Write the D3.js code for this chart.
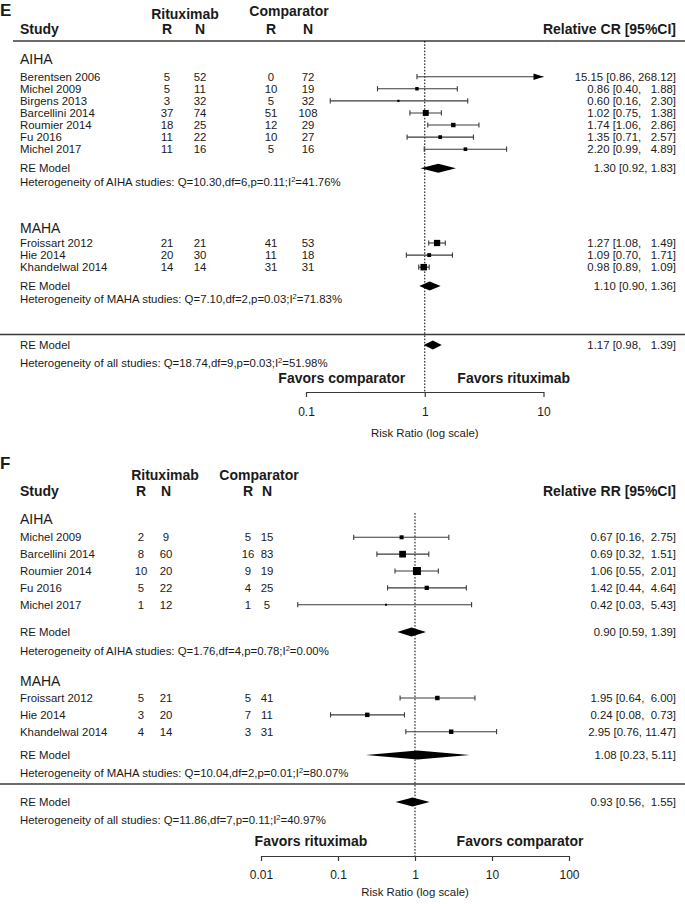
<!DOCTYPE html>
<html><head><meta charset="utf-8">
<script src="https://cdn.jsdelivr.net/npm/d3@7/dist/d3.min.js"></script>
<style>
body{margin:0;background:#fff;}
svg text{font-family:"Liberation Sans", Arial, sans-serif; fill:#1a1a1a; white-space:pre;}
</style></head><body>
<svg id="chart" width="685" height="904"></svg>
<script>
// ================= DATA =================
// Panel E : complete response
const crAihaNames  = ["Berentsen 2006","Michel 2009","Birgens 2013","Barcellini 2014","Roumier 2014","Fu 2016","Michel 2017"];
const crAihaRituxR = [5,5,3,37,18,11,11];
const crAihaRituxN = [52,11,32,74,25,22,16];
const crAihaCompR  = [0,10,5,51,12,10,5];
const crAihaCompN  = [72,19,32,108,29,27,16];
const crAihaRR     = [15.15,0.86,0.60,1.02,1.74,1.35,2.20];
const crAihaLo     = [0.86,0.40,0.16,0.75,1.06,0.71,0.99];
const crAihaHi     = [268.12,1.88,2.30,1.38,2.86,2.57,4.89];
const crAihaWeight = [1.0,6.0,2.5,18.0,10.0,7.0,6.5];

const crMahaNames  = ["Froissart 2012","Hie 2014","Khandelwal 2014"];
const crMahaRituxR = [21,20,14];
const crMahaRituxN = [21,30,14];
const crMahaCompR  = [41,11,31];
const crMahaCompN  = [53,18,31];
const crMahaRR     = [1.27,1.09,0.98];
const crMahaLo     = [1.08,0.70,0.89];
const crMahaHi     = [1.49,1.71,1.09];
const crMahaWeight = [20.0,7.5,21.5];

// summaries: [estimate, lower, upper, Q, df, p, I2]
const crAihaSummary = [1.30,0.92,1.83,10.30,6,0.11,41.76];
const crMahaSummary = [1.10,0.90,1.36,7.10,2,0.03,71.83];
const crAllSummary  = [1.17,0.98,1.39,18.74,9,0.03,51.98];
const crTickValues  = [0.1,1,10];
const crTickLabels  = ["0.1","1","10"];

// Panel F : relapse
const rrAihaNames  = ["Michel 2009","Barcellini 2014","Roumier 2014","Fu 2016","Michel 2017"];
const rrAihaRituxR = [2,8,10,5,1];
const rrAihaRituxN = [9,60,20,22,12];
const rrAihaCompR  = [5,16,9,4,1];
const rrAihaCompN  = [15,83,19,25,5];
const rrAihaRR     = [0.67,0.69,1.06,1.42,0.42];
const rrAihaLo     = [0.16,0.32,0.55,0.44,0.03];
const rrAihaHi     = [2.75,1.51,2.01,4.64,5.43];
const rrAihaWeight = [7.7,21.7,31.0,8.9,1.9];

const rrMahaNames  = ["Froissart 2012","Hie 2014","Khandelwal 2014"];
const rrMahaRituxR = [5,3,4];
const rrMahaRituxN = [21,20,14];
const rrMahaCompR  = [5,7,3];
const rrMahaCompN  = [41,11,31];
const rrMahaRR     = [1.95,0.24,2.95];
const rrMahaLo     = [0.64,0.08,0.76];
const rrMahaHi     = [6.00,0.73,11.47];
const rrMahaWeight = [9.6,9.6,9.6];

const rrAihaSummary = [0.90,0.59,1.39,1.76,4,0.78,0.00];
const rrMahaSummary = [1.08,0.23,5.11,10.04,2,0.01,80.07];
const rrAllSummary  = [0.93,0.56,1.55,11.86,7,0.11,40.97];
const rrTickValues  = [0.01,0.1,1,10,100];
const rrTickLabels  = ["0.01","0.1","1","10","100"];

// ================= HELPERS =================
const svg = d3.select("#chart");
const fmt2 = d3.format(".2f");
const INK = "#1a1a1a", LINE = "#3a3a3a";

function zipStudies(names, rR, rN, cR, cN, est, lo, hi, w) {
  return names.map((n, i) => ({name:n, rR:rR[i], rN:rN[i], cR:cR[i], cN:cN[i], est:est[i], lo:lo[i], hi:hi[i], w:w[i]}));
}
function txt(g, x, y, s, o = {}) {
  return g.append("text").attr("x", x).attr("y", y).attr("dy", "0.35em")
    .attr("font-size", o.size || 11.4).attr("font-weight", o.weight || "normal")
    .attr("text-anchor", o.anchor || "start").text(s);
}
function hetText(g, x, y, label, s) {
  const t = txt(g, x, y, `Heterogeneity of ${label} studies: Q=${fmt2(s[3])},df=${s[4]},p=${fmt2(s[5])};I`);
  t.append("tspan").attr("dy", -4).attr("font-size", 7.5).text("2");
  t.append("tspan").attr("dy", 4).text(`=${fmt2(s[6])}%`);
}

function drawPanel(cfg) {
  const g = svg.append("g");
  const x = d3.scaleLog().domain(cfg.domain).range(cfg.range);
  const [dMin, dMax] = cfg.domain;
  const allStudies = cfg.groups.flatMap(gr => gr.studies);
  const widths = [
    d3.max(allStudies.concat([{est:cfg.overall[0]}]), d => fmt2(d.est).length),
    d3.max(allStudies.concat([{lo:cfg.overall[1]}]), d => fmt2(d.lo).length),
    d3.max(allStudies.concat([{hi:cfg.overall[2]}]), d => fmt2(d.hi).length)
  ];
  const ci = (e, l, h, w) => w
    ? `${fmt2(e).padStart(w[0])} [${fmt2(l).padStart(w[1])}, ${fmt2(h).padStart(w[2])}]`
    : `${fmt2(e)} [${fmt2(l)}, ${fmt2(h)}]`;
  const size = d3.scaleSqrt().domain([0, d3.max(allStudies, d => d.w)]).range([0, cfg.maxSquare]);
  const L = cfg.layout;
  const xText = 20, xRight = 676;

  // headers
  txt(g, 0, L.letter, cfg.letter, {size:17, weight:"bold"});
  txt(g, cfg.ritCenter, L.rit, "Rituximab", {size:14, weight:"bold", anchor:"middle"});
  txt(g, cfg.compCenter, L.comp, "Comparator", {size:14, weight:"bold", anchor:"middle"});
  txt(g, xText, L.header, "Study", {size:14, weight:"bold"});
  ["R","N","R","N"].forEach((h, i) => txt(g, cfg.cols[i], L.header, h, {size:14, weight:"bold", anchor:"middle"}));
  txt(g, xRight, L.header, cfg.outcome, {size:14, weight:"bold", anchor:"end"});
  if (L.headerLine != null)
    g.append("line").attr("x1", 13).attr("x2", 685).attr("y1", L.headerLine).attr("y2", L.headerLine)
      .attr("stroke", LINE).attr("stroke-width", 1.6);

  // reference line at 1
  g.append("line").attr("x1", x(1)).attr("x2", x(1)).attr("y1", L.refTop).attr("y2", L.axis)
    .attr("stroke", "#000").attr("stroke-width", 1).attr("stroke-dasharray", "1.6,1.6");

  function diamond(s, y, h) {
    g.append("polygon").attr("fill", "#000")
      .attr("points", [[x(s[1]), y], [x(s[0]), y - h], [x(s[2]), y], [x(s[0]), y + h]].map(p => p.join(",")).join(" "));
  }

  cfg.groups.forEach((gr, gi) => {
    const GL = L.groups[gi];
    txt(g, xText, GL.label, gr.label, {size:14});
    gr.studies.forEach((d, i) => {
      const y = GL.first + i * L.rowStep;
      txt(g, xText, y, d.name);
      [d.rR, d.rN, d.cR, d.cN].forEach((v, k) => txt(g, cfg.cols[k], y, String(v), {anchor:"middle"}));
      txt(g, xRight, y, ci(d.est, d.lo, d.hi, widths), {anchor:"end"});
      const lo = Math.max(d.lo, dMin), hi = Math.min(d.hi, dMax);
      g.append("line").attr("x1", x(lo)).attr("x2", x(hi)).attr("y1", y).attr("y2", y)
        .attr("stroke", LINE).attr("stroke-width", 1.1);
      if (d.lo >= dMin) g.append("line").attr("x1", x(d.lo)).attr("x2", x(d.lo)).attr("y1", y - 2.6).attr("y2", y + 2.6).attr("stroke", LINE).attr("stroke-width", 1.1);
      if (d.hi <= dMax) g.append("line").attr("x1", x(d.hi)).attr("x2", x(d.hi)).attr("y1", y - 2.6).attr("y2", y + 2.6).attr("stroke", LINE).attr("stroke-width", 1.1);
      else g.append("polygon").attr("fill", "#000")
        .attr("points", `${x(dMax)},${y} ${x(dMax) - 10},${y - 3.2} ${x(dMax) - 10},${y + 3.2}`);
      if (d.est >= dMin && d.est <= dMax) {
        const s = size(d.w);
        g.append("rect").attr("x", x(d.est) - s / 2).attr("y", y - s / 2).attr("width", s).attr("height", s).attr("fill", "#000");
      }
    });
    txt(g, xText, GL.re, "RE Model");
    diamond(gr.summary, GL.re, 4.5);
    txt(g, xRight, GL.re, ci(gr.summary[0], gr.summary[1], gr.summary[2]), {anchor:"end"});
    hetText(g, xText, GL.het, gr.label, gr.summary);
  });

  // overall
  g.append("line").attr("x1", 0).attr("x2", 685).attr("y1", L.sepLine).attr("y2", L.sepLine)
    .attr("stroke", LINE).attr("stroke-width", 1.6);
  txt(g, xText, L.overallRe, "RE Model");
  diamond(cfg.overall, L.overallRe, 4.5);
  txt(g, xRight, L.overallRe, ci(cfg.overall[0], cfg.overall[1], cfg.overall[2], widths), {anchor:"end"});
  hetText(g, xText, L.overallHet, "all", cfg.overall);

  // favors labels
  txt(g, x(1) + cfg.favorsOffset[0], L.favors, cfg.favors[0], {size:14, weight:"bold", anchor:"middle"});
  txt(g, x(1) + cfg.favorsOffset[1], L.favors, cfg.favors[1], {size:14, weight:"bold", anchor:"middle"});

  // axis
  const ax = g.append("g").attr("transform", `translate(0,${L.axis})`)
    .call(d3.axisBottom(x).tickValues(cfg.ticks).tickFormat((d, i) => cfg.tickLabels[i])
      .tickSize(5).tickSizeOuter(0).tickPadding(cfg.tickPad));
  ax.attr("font-family", null).attr("font-size", null);
  ax.selectAll("path,line").attr("stroke", LINE).attr("stroke-width", 1.2);
  ax.selectAll("text").attr("font-size", 12).attr("fill", INK);
  txt(g, (cfg.range[0] + cfg.range[1]) / 2, L.xlabel, "Risk Ratio (log scale)", {size:11.4, anchor:"middle"});
}

// ================= PANELS =================
drawPanel({
  letter: "E", outcome: "Relative CR [95%CI]",
  domain: [0.1, 10], range: [306, 543.5], ticks: crTickValues, tickLabels: crTickLabels, tickPad: 10,
  cols: [167, 200, 271, 308], ritCenter: 185, compCenter: 289, maxSquare: 6.5,
  favors: ["Favors comparator", "Favors rituximab"], favorsOffset: [-83, 89],
  groups: [
    {label: "AIHA", studies: zipStudies(crAihaNames, crAihaRituxR, crAihaRituxN, crAihaCompR, crAihaCompN, crAihaRR, crAihaLo, crAihaHi, crAihaWeight), summary: crAihaSummary},
    {label: "MAHA", studies: zipStudies(crMahaNames, crMahaRituxR, crMahaRituxN, crMahaCompR, crMahaCompN, crMahaRR, crMahaLo, crMahaHi, crMahaWeight), summary: crMahaSummary}
  ],
  overall: crAllSummary,
  layout: {letter: 10, rit: 14, comp: 11.5, header: 29.5, headerLine: 41, refTop: 41, rowStep: 12.08,
    groups: [{label: 59, first: 76.7, re: 168.3, het: 181.7}, {label: 228, first: 243, re: 286, het: 299.5}],
    sepLine: 334.5, overallRe: 345, overallHet: 363.5, favors: 378.5, axis: 392, xlabel: 433}
});

drawPanel({
  letter: "F", outcome: "Relative RR [95%CI]",
  domain: [0.01, 100], range: [261, 569], ticks: rrTickValues, tickLabels: rrTickLabels, tickPad: 9,
  cols: [141, 166, 248, 267], ritCenter: 165, compCenter: 259, maxSquare: 8,
  favors: ["Favors rituximab", "Favors comparator"], favorsOffset: [-104, 105],
  groups: [
    {label: "AIHA", studies: zipStudies(rrAihaNames, rrAihaRituxR, rrAihaRituxN, rrAihaCompR, rrAihaCompN, rrAihaRR, rrAihaLo, rrAihaHi, rrAihaWeight), summary: rrAihaSummary},
    {label: "MAHA", studies: zipStudies(rrMahaNames, rrMahaRituxR, rrMahaRituxN, rrMahaCompR, rrMahaCompN, rrMahaRR, rrMahaLo, rrMahaHi, rrMahaWeight), summary: rrMahaSummary}
  ],
  overall: rrAllSummary,
  layout: {letter: 463, rit: 475, comp: 475, header: 491, headerLine: null, refTop: 513, rowStep: 16.85,
    groups: [{label: 519, first: 537.3, re: 632, het: 651}, {label: 681, first: 698, re: 755, het: 773}],
    sepLine: 784, overallRe: 802, overallHet: 820, favors: 841, axis: 856, xlabel: 892}
});
</script>
</body></html>
